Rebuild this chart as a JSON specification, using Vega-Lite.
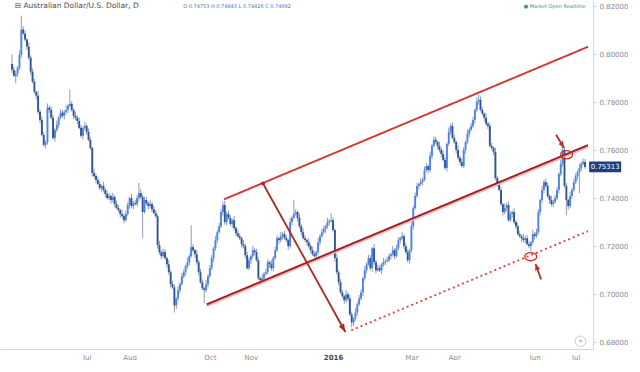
{
"$schema":"https://vega.github.io/schema/vega-lite/v6.json",
"width":593,"height":349,"padding":0,"autosize":{"type":"pad"},
"background":"#ffffff",
"view":{"stroke":null},
"config":{"font":"DejaVu Sans"},
"datasets":{
"candles":[
{"i":3,"o":0.7960,"h":0.8000,"l":0.7923,"c":0.7936},
{"i":4,"o":0.7936,"h":0.7950,"l":0.7905,"c":0.7911},
{"i":5,"o":0.7911,"h":0.7932,"l":0.7880,"c":0.7920},
{"i":6,"o":0.7920,"h":0.7951,"l":0.7905,"c":0.7945},
{"i":7,"o":0.7945,"h":0.8017,"l":0.7935,"c":0.7999},
{"i":8,"o":0.7999,"h":0.8162,"l":0.7986,"c":0.8104},
{"i":9,"o":0.8104,"h":0.8118,"l":0.8081,"c":0.8087},
{"i":10,"o":0.8087,"h":0.8099,"l":0.8054,"c":0.8062},
{"i":11,"o":0.8062,"h":0.8068,"l":0.8018,"c":0.8033},
{"i":12,"o":0.8033,"h":0.8051,"l":0.7977,"c":0.7987},
{"i":13,"o":0.7987,"h":0.7996,"l":0.7915,"c":0.7928},
{"i":14,"o":0.7928,"h":0.7942,"l":0.7880,"c":0.7886},
{"i":15,"o":0.7886,"h":0.7898,"l":0.7836,"c":0.7844},
{"i":16,"o":0.7844,"h":0.7850,"l":0.7813,"c":0.7828},
{"i":17,"o":0.7828,"h":0.7846,"l":0.7751,"c":0.7761},
{"i":18,"o":0.7761,"h":0.7770,"l":0.7714,"c":0.7727},
{"i":19,"o":0.7727,"h":0.7741,"l":0.7659,"c":0.7665},
{"i":20,"o":0.7665,"h":0.7677,"l":0.7615,"c":0.7623},
{"i":21,"o":0.7623,"h":0.7641,"l":0.7608,"c":0.7635},
{"i":22,"o":0.7635,"h":0.7796,"l":0.7625,"c":0.7778},
{"i":23,"o":0.7778,"h":0.7787,"l":0.7756,"c":0.7769},
{"i":24,"o":0.7769,"h":0.7783,"l":0.7730,"c":0.7736},
{"i":25,"o":0.7736,"h":0.7748,"l":0.7644,"c":0.7652},
{"i":26,"o":0.7652,"h":0.7692,"l":0.7637,"c":0.7686},
{"i":27,"o":0.7686,"h":0.7725,"l":0.7676,"c":0.7707},
{"i":28,"o":0.7707,"h":0.7745,"l":0.7694,"c":0.7736},
{"i":29,"o":0.7736,"h":0.7771,"l":0.7730,"c":0.7757},
{"i":30,"o":0.7757,"h":0.7769,"l":0.7736,"c":0.7744},
{"i":31,"o":0.7744,"h":0.7767,"l":0.7729,"c":0.7761},
{"i":32,"o":0.7761,"h":0.7787,"l":0.7751,"c":0.7769},
{"i":33,"o":0.7769,"h":0.7795,"l":0.7756,"c":0.7786},
{"i":34,"o":0.7786,"h":0.7853,"l":0.7780,"c":0.7794},
{"i":35,"o":0.7794,"h":0.7806,"l":0.7761,"c":0.7769},
{"i":36,"o":0.7769,"h":0.7775,"l":0.7729,"c":0.7744},
{"i":37,"o":0.7744,"h":0.7762,"l":0.7726,"c":0.7736},
{"i":38,"o":0.7736,"h":0.7745,"l":0.7710,"c":0.7723},
{"i":39,"o":0.7723,"h":0.7737,"l":0.7688,"c":0.7694},
{"i":40,"o":0.7694,"h":0.7706,"l":0.7653,"c":0.7661},
{"i":41,"o":0.7661,"h":0.7700,"l":0.7646,"c":0.7694},
{"i":42,"o":0.7694,"h":0.7720,"l":0.7684,"c":0.7702},
{"i":43,"o":0.7702,"h":0.7711,"l":0.7664,"c":0.7677},
{"i":44,"o":0.7677,"h":0.7691,"l":0.7638,"c":0.7644},
{"i":45,"o":0.7644,"h":0.7656,"l":0.7602,"c":0.7610},
{"i":46,"o":0.7610,"h":0.7616,"l":0.7491,"c":0.7506},
{"i":47,"o":0.7506,"h":0.7524,"l":0.7483,"c":0.7493},
{"i":48,"o":0.7493,"h":0.7502,"l":0.7464,"c":0.7477},
{"i":49,"o":0.7477,"h":0.7491,"l":0.7454,"c":0.7460},
{"i":50,"o":0.7460,"h":0.7472,"l":0.7435,"c":0.7443},
{"i":51,"o":0.7443,"h":0.7458,"l":0.7428,"c":0.7452},
{"i":52,"o":0.7452,"h":0.7470,"l":0.7425,"c":0.7435},
{"i":53,"o":0.7435,"h":0.7444,"l":0.7405,"c":0.7418},
{"i":54,"o":0.7418,"h":0.7432,"l":0.7395,"c":0.7401},
{"i":55,"o":0.7401,"h":0.7422,"l":0.7393,"c":0.7410},
{"i":56,"o":0.7410,"h":0.7416,"l":0.7378,"c":0.7393},
{"i":57,"o":0.7393,"h":0.7424,"l":0.7383,"c":0.7406},
{"i":58,"o":0.7406,"h":0.7415,"l":0.7363,"c":0.7376},
{"i":59,"o":0.7376,"h":0.7390,"l":0.7354,"c":0.7360},
{"i":60,"o":0.7360,"h":0.7372,"l":0.7343,"c":0.7351},
{"i":61,"o":0.7351,"h":0.7357,"l":0.7320,"c":0.7335},
{"i":62,"o":0.7335,"h":0.7353,"l":0.7316,"c":0.7326},
{"i":63,"o":0.7326,"h":0.7335,"l":0.7296,"c":0.7309},
{"i":64,"o":0.7309,"h":0.7349,"l":0.7303,"c":0.7335},
{"i":65,"o":0.7335,"h":0.7384,"l":0.7327,"c":0.7372},
{"i":66,"o":0.7372,"h":0.7407,"l":0.7357,"c":0.7401},
{"i":67,"o":0.7401,"h":0.7419,"l":0.7358,"c":0.7368},
{"i":68,"o":0.7368,"h":0.7389,"l":0.7355,"c":0.7380},
{"i":69,"o":0.7380,"h":0.7394,"l":0.7370,"c":0.7376},
{"i":70,"o":0.7376,"h":0.7413,"l":0.7368,"c":0.7401},
{"i":71,"o":0.7401,"h":0.7464,"l":0.7386,"c":0.7422},
{"i":72,"o":0.7422,"h":0.7440,"l":0.7396,"c":0.7406},
{"i":73,"o":0.7406,"h":0.7415,"l":0.7234,"c":0.7343},
{"i":74,"o":0.7343,"h":0.7407,"l":0.7337,"c":0.7393},
{"i":75,"o":0.7393,"h":0.7405,"l":0.7372,"c":0.7380},
{"i":76,"o":0.7380,"h":0.7386,"l":0.7353,"c":0.7368},
{"i":77,"o":0.7368,"h":0.7394,"l":0.7358,"c":0.7376},
{"i":78,"o":0.7376,"h":0.7385,"l":0.7342,"c":0.7355},
{"i":79,"o":0.7355,"h":0.7369,"l":0.7333,"c":0.7339},
{"i":80,"o":0.7339,"h":0.7351,"l":0.7318,"c":0.7326},
{"i":81,"o":0.7326,"h":0.7332,"l":0.7190,"c":0.7205},
{"i":82,"o":0.7205,"h":0.7223,"l":0.7166,"c":0.7176},
{"i":83,"o":0.7176,"h":0.7185,"l":0.7146,"c":0.7159},
{"i":84,"o":0.7159,"h":0.7190,"l":0.7153,"c":0.7176},
{"i":85,"o":0.7176,"h":0.7188,"l":0.7143,"c":0.7151},
{"i":86,"o":0.7151,"h":0.7157,"l":0.7110,"c":0.7125},
{"i":87,"o":0.7125,"h":0.7143,"l":0.7082,"c":0.7092},
{"i":88,"o":0.7092,"h":0.7101,"l":0.7029,"c":0.7042},
{"i":89,"o":0.7042,"h":0.7056,"l":0.7023,"c":0.7029},
{"i":90,"o":0.7029,"h":0.7041,"l":0.6924,"c":0.6954},
{"i":91,"o":0.6954,"h":0.6989,"l":0.6939,"c":0.6983},
{"i":92,"o":0.6983,"h":0.7035,"l":0.6973,"c":0.7017},
{"i":93,"o":0.7017,"h":0.7051,"l":0.7004,"c":0.7042},
{"i":94,"o":0.7042,"h":0.7089,"l":0.7036,"c":0.7075},
{"i":95,"o":0.7075,"h":0.7104,"l":0.7067,"c":0.7092},
{"i":96,"o":0.7092,"h":0.7123,"l":0.7077,"c":0.7117},
{"i":97,"o":0.7117,"h":0.7152,"l":0.7107,"c":0.7134},
{"i":98,"o":0.7134,"h":0.7168,"l":0.7121,"c":0.7159},
{"i":99,"o":0.7159,"h":0.7288,"l":0.7153,"c":0.7197},
{"i":100,"o":0.7197,"h":0.7209,"l":0.7176,"c":0.7184},
{"i":101,"o":0.7184,"h":0.7190,"l":0.7152,"c":0.7167},
{"i":102,"o":0.7167,"h":0.7185,"l":0.7124,"c":0.7134},
{"i":103,"o":0.7134,"h":0.7143,"l":0.7079,"c":0.7092},
{"i":104,"o":0.7092,"h":0.7106,"l":0.7044,"c":0.7050},
{"i":105,"o":0.7050,"h":0.7062,"l":0.7017,"c":0.7025},
{"i":106,"o":0.7025,"h":0.7031,"l":0.6962,"c":0.7017},
{"i":107,"o":0.7017,"h":0.7060,"l":0.7007,"c":0.7042},
{"i":108,"o":0.7042,"h":0.7084,"l":0.7029,"c":0.7075},
{"i":109,"o":0.7075,"h":0.7123,"l":0.7069,"c":0.7109},
{"i":110,"o":0.7109,"h":0.7163,"l":0.7101,"c":0.7151},
{"i":111,"o":0.7151,"h":0.7198,"l":0.7136,"c":0.7192},
{"i":112,"o":0.7192,"h":0.7244,"l":0.7182,"c":0.7226},
{"i":113,"o":0.7226,"h":0.7268,"l":0.7213,"c":0.7259},
{"i":114,"o":0.7259,"h":0.7298,"l":0.7253,"c":0.7284},
{"i":115,"o":0.7284,"h":0.7355,"l":0.7276,"c":0.7343},
{"i":116,"o":0.7343,"h":0.7385,"l":0.7328,"c":0.7372},
{"i":117,"o":0.7372,"h":0.7390,"l":0.7291,"c":0.7301},
{"i":118,"o":0.7301,"h":0.7344,"l":0.7288,"c":0.7335},
{"i":119,"o":0.7335,"h":0.7349,"l":0.7312,"c":0.7318},
{"i":120,"o":0.7318,"h":0.7330,"l":0.7285,"c":0.7293},
{"i":121,"o":0.7293,"h":0.7315,"l":0.7278,"c":0.7309},
{"i":122,"o":0.7309,"h":0.7327,"l":0.7266,"c":0.7276},
{"i":123,"o":0.7276,"h":0.7285,"l":0.7242,"c":0.7255},
{"i":124,"o":0.7255,"h":0.7269,"l":0.7236,"c":0.7242},
{"i":125,"o":0.7242,"h":0.7254,"l":0.7226,"c":0.7234},
{"i":126,"o":0.7234,"h":0.7240,"l":0.7194,"c":0.7209},
{"i":127,"o":0.7209,"h":0.7227,"l":0.7191,"c":0.7201},
{"i":128,"o":0.7201,"h":0.7210,"l":0.7150,"c":0.7163},
{"i":129,"o":0.7163,"h":0.7177,"l":0.7103,"c":0.7109},
{"i":130,"o":0.7109,"h":0.7154,"l":0.7101,"c":0.7142},
{"i":131,"o":0.7142,"h":0.7165,"l":0.7127,"c":0.7159},
{"i":132,"o":0.7159,"h":0.7202,"l":0.7149,"c":0.7184},
{"i":133,"o":0.7184,"h":0.7193,"l":0.7163,"c":0.7176},
{"i":134,"o":0.7176,"h":0.7190,"l":0.7136,"c":0.7142},
{"i":135,"o":0.7142,"h":0.7154,"l":0.7059,"c":0.7067},
{"i":136,"o":0.7067,"h":0.7073,"l":0.7044,"c":0.7059},
{"i":137,"o":0.7059,"h":0.7085,"l":0.7049,"c":0.7067},
{"i":138,"o":0.7067,"h":0.7093,"l":0.7054,"c":0.7084},
{"i":139,"o":0.7084,"h":0.7106,"l":0.7078,"c":0.7092},
{"i":140,"o":0.7092,"h":0.7146,"l":0.7084,"c":0.7134},
{"i":141,"o":0.7134,"h":0.7140,"l":0.7110,"c":0.7125},
{"i":142,"o":0.7125,"h":0.7143,"l":0.7099,"c":0.7109},
{"i":143,"o":0.7109,"h":0.7160,"l":0.7096,"c":0.7151},
{"i":144,"o":0.7151,"h":0.7198,"l":0.7145,"c":0.7184},
{"i":145,"o":0.7184,"h":0.7246,"l":0.7176,"c":0.7234},
{"i":146,"o":0.7234,"h":0.7240,"l":0.7211,"c":0.7226},
{"i":147,"o":0.7226,"h":0.7260,"l":0.7216,"c":0.7242},
{"i":148,"o":0.7242,"h":0.7260,"l":0.7229,"c":0.7251},
{"i":149,"o":0.7251,"h":0.7265,"l":0.7228,"c":0.7234},
{"i":150,"o":0.7234,"h":0.7246,"l":0.7218,"c":0.7226},
{"i":151,"o":0.7226,"h":0.7232,"l":0.7186,"c":0.7201},
{"i":152,"o":0.7201,"h":0.7319,"l":0.7191,"c":0.7301},
{"i":153,"o":0.7301,"h":0.7327,"l":0.7288,"c":0.7318},
{"i":154,"o":0.7318,"h":0.7393,"l":0.7312,"c":0.7335},
{"i":155,"o":0.7335,"h":0.7355,"l":0.7327,"c":0.7343},
{"i":156,"o":0.7343,"h":0.7349,"l":0.7303,"c":0.7318},
{"i":157,"o":0.7318,"h":0.7336,"l":0.7274,"c":0.7284},
{"i":158,"o":0.7284,"h":0.7293,"l":0.7246,"c":0.7259},
{"i":159,"o":0.7259,"h":0.7273,"l":0.7228,"c":0.7234},
{"i":160,"o":0.7234,"h":0.7246,"l":0.7218,"c":0.7226},
{"i":161,"o":0.7226,"h":0.7232,"l":0.7202,"c":0.7217},
{"i":162,"o":0.7217,"h":0.7235,"l":0.7191,"c":0.7201},
{"i":163,"o":0.7201,"h":0.7210,"l":0.7171,"c":0.7184},
{"i":164,"o":0.7184,"h":0.7198,"l":0.7161,"c":0.7167},
{"i":165,"o":0.7167,"h":0.7179,"l":0.7151,"c":0.7159},
{"i":166,"o":0.7159,"h":0.7182,"l":0.7144,"c":0.7176},
{"i":167,"o":0.7176,"h":0.7235,"l":0.7166,"c":0.7217},
{"i":168,"o":0.7217,"h":0.7251,"l":0.7204,"c":0.7242},
{"i":169,"o":0.7242,"h":0.7273,"l":0.7236,"c":0.7259},
{"i":170,"o":0.7259,"h":0.7284,"l":0.7251,"c":0.7272},
{"i":171,"o":0.7272,"h":0.7290,"l":0.7257,"c":0.7284},
{"i":172,"o":0.7284,"h":0.7319,"l":0.7274,"c":0.7301},
{"i":173,"o":0.7301,"h":0.7314,"l":0.7288,"c":0.7305},
{"i":174,"o":0.7305,"h":0.7339,"l":0.7299,"c":0.7309},
{"i":175,"o":0.7309,"h":0.7321,"l":0.7260,"c":0.7268},
{"i":176,"o":0.7268,"h":0.7274,"l":0.7136,"c":0.7151},
{"i":177,"o":0.7151,"h":0.7169,"l":0.7082,"c":0.7092},
{"i":178,"o":0.7092,"h":0.7101,"l":0.7037,"c":0.7050},
{"i":179,"o":0.7050,"h":0.7064,"l":0.7002,"c":0.7008},
{"i":180,"o":0.7008,"h":0.7020,"l":0.6984,"c":0.6992},
{"i":181,"o":0.6992,"h":0.6998,"l":0.6960,"c":0.6975},
{"i":182,"o":0.6975,"h":0.7018,"l":0.6965,"c":0.7000},
{"i":183,"o":0.7000,"h":0.7009,"l":0.6970,"c":0.6983},
{"i":184,"o":0.6983,"h":0.6997,"l":0.6910,"c":0.6916},
{"i":185,"o":0.6916,"h":0.6928,"l":0.6862,"c":0.6883},
{"i":186,"o":0.6883,"h":0.6905,"l":0.6868,"c":0.6899},
{"i":187,"o":0.6899,"h":0.6942,"l":0.6889,"c":0.6924},
{"i":188,"o":0.6924,"h":0.6967,"l":0.6911,"c":0.6958},
{"i":189,"o":0.6958,"h":0.6997,"l":0.6952,"c":0.6983},
{"i":190,"o":0.6983,"h":0.7020,"l":0.6975,"c":0.7008},
{"i":191,"o":0.7008,"h":0.7073,"l":0.6993,"c":0.7067},
{"i":192,"o":0.7067,"h":0.7118,"l":0.7057,"c":0.7100},
{"i":193,"o":0.7100,"h":0.7134,"l":0.7087,"c":0.7125},
{"i":194,"o":0.7125,"h":0.7165,"l":0.7119,"c":0.7151},
{"i":195,"o":0.7151,"h":0.7163,"l":0.7101,"c":0.7109},
{"i":196,"o":0.7109,"h":0.7198,"l":0.7094,"c":0.7192},
{"i":197,"o":0.7192,"h":0.7210,"l":0.7124,"c":0.7134},
{"i":198,"o":0.7134,"h":0.7143,"l":0.7087,"c":0.7100},
{"i":199,"o":0.7100,"h":0.7123,"l":0.7094,"c":0.7109},
{"i":200,"o":0.7109,"h":0.7121,"l":0.7092,"c":0.7100},
{"i":201,"o":0.7100,"h":0.7131,"l":0.7085,"c":0.7125},
{"i":202,"o":0.7125,"h":0.7152,"l":0.7115,"c":0.7134},
{"i":203,"o":0.7134,"h":0.7147,"l":0.7121,"c":0.7138},
{"i":204,"o":0.7138,"h":0.7156,"l":0.7132,"c":0.7142},
{"i":205,"o":0.7142,"h":0.7171,"l":0.7134,"c":0.7159},
{"i":206,"o":0.7159,"h":0.7173,"l":0.7144,"c":0.7167},
{"i":207,"o":0.7167,"h":0.7202,"l":0.7157,"c":0.7184},
{"i":208,"o":0.7184,"h":0.7193,"l":0.7146,"c":0.7159},
{"i":209,"o":0.7159,"h":0.7206,"l":0.7153,"c":0.7192},
{"i":210,"o":0.7192,"h":0.7238,"l":0.7184,"c":0.7226},
{"i":211,"o":0.7226,"h":0.7240,"l":0.7211,"c":0.7234},
{"i":212,"o":0.7234,"h":0.7260,"l":0.7224,"c":0.7242},
{"i":213,"o":0.7242,"h":0.7251,"l":0.7188,"c":0.7201},
{"i":214,"o":0.7201,"h":0.7215,"l":0.7170,"c":0.7176},
{"i":215,"o":0.7176,"h":0.7188,"l":0.7134,"c":0.7142},
{"i":216,"o":0.7142,"h":0.7190,"l":0.7127,"c":0.7184},
{"i":217,"o":0.7184,"h":0.7302,"l":0.7174,"c":0.7284},
{"i":218,"o":0.7284,"h":0.7369,"l":0.7271,"c":0.7360},
{"i":219,"o":0.7360,"h":0.7424,"l":0.7354,"c":0.7410},
{"i":220,"o":0.7410,"h":0.7464,"l":0.7402,"c":0.7452},
{"i":221,"o":0.7452,"h":0.7466,"l":0.7437,"c":0.7460},
{"i":222,"o":0.7460,"h":0.7486,"l":0.7450,"c":0.7468},
{"i":223,"o":0.7468,"h":0.7486,"l":0.7455,"c":0.7477},
{"i":224,"o":0.7477,"h":0.7532,"l":0.7471,"c":0.7518},
{"i":225,"o":0.7518,"h":0.7547,"l":0.7510,"c":0.7535},
{"i":226,"o":0.7535,"h":0.7541,"l":0.7503,"c":0.7518},
{"i":227,"o":0.7518,"h":0.7595,"l":0.7508,"c":0.7577},
{"i":228,"o":0.7577,"h":0.7628,"l":0.7564,"c":0.7619},
{"i":229,"o":0.7619,"h":0.7658,"l":0.7613,"c":0.7644},
{"i":230,"o":0.7644,"h":0.7656,"l":0.7627,"c":0.7635},
{"i":231,"o":0.7635,"h":0.7641,"l":0.7604,"c":0.7619},
{"i":232,"o":0.7619,"h":0.7637,"l":0.7592,"c":0.7602},
{"i":233,"o":0.7602,"h":0.7611,"l":0.7572,"c":0.7585},
{"i":234,"o":0.7585,"h":0.7599,"l":0.7554,"c":0.7560},
{"i":235,"o":0.7560,"h":0.7572,"l":0.7519,"c":0.7527},
{"i":236,"o":0.7527,"h":0.7633,"l":0.7512,"c":0.7627},
{"i":237,"o":0.7627,"h":0.7695,"l":0.7617,"c":0.7677},
{"i":238,"o":0.7677,"h":0.7711,"l":0.7664,"c":0.7702},
{"i":239,"o":0.7702,"h":0.7716,"l":0.7646,"c":0.7652},
{"i":240,"o":0.7652,"h":0.7664,"l":0.7627,"c":0.7635},
{"i":241,"o":0.7635,"h":0.7641,"l":0.7587,"c":0.7602},
{"i":242,"o":0.7602,"h":0.7620,"l":0.7559,"c":0.7569},
{"i":243,"o":0.7569,"h":0.7578,"l":0.7539,"c":0.7552},
{"i":244,"o":0.7552,"h":0.7566,"l":0.7529,"c":0.7535},
{"i":245,"o":0.7535,"h":0.7614,"l":0.7527,"c":0.7602},
{"i":246,"o":0.7602,"h":0.7641,"l":0.7587,"c":0.7635},
{"i":247,"o":0.7635,"h":0.7687,"l":0.7625,"c":0.7669},
{"i":248,"o":0.7669,"h":0.7695,"l":0.7656,"c":0.7686},
{"i":249,"o":0.7686,"h":0.7716,"l":0.7680,"c":0.7702},
{"i":250,"o":0.7702,"h":0.7739,"l":0.7694,"c":0.7727},
{"i":251,"o":0.7727,"h":0.7775,"l":0.7712,"c":0.7769},
{"i":252,"o":0.7769,"h":0.7821,"l":0.7759,"c":0.7803},
{"i":253,"o":0.7803,"h":0.7832,"l":0.7790,"c":0.7811},
{"i":254,"o":0.7811,"h":0.7825,"l":0.7763,"c":0.7769},
{"i":255,"o":0.7769,"h":0.7781,"l":0.7745,"c":0.7753},
{"i":256,"o":0.7753,"h":0.7759,"l":0.7721,"c":0.7736},
{"i":257,"o":0.7736,"h":0.7754,"l":0.7701,"c":0.7711},
{"i":258,"o":0.7711,"h":0.7720,"l":0.7689,"c":0.7702},
{"i":259,"o":0.7702,"h":0.7716,"l":0.7613,"c":0.7619},
{"i":260,"o":0.7619,"h":0.7631,"l":0.7602,"c":0.7610},
{"i":261,"o":0.7610,"h":0.7616,"l":0.7579,"c":0.7594},
{"i":262,"o":0.7594,"h":0.7612,"l":0.7475,"c":0.7485},
{"i":263,"o":0.7485,"h":0.7494,"l":0.7447,"c":0.7460},
{"i":264,"o":0.7460,"h":0.7474,"l":0.7429,"c":0.7435},
{"i":265,"o":0.7435,"h":0.7447,"l":0.7368,"c":0.7376},
{"i":266,"o":0.7376,"h":0.7382,"l":0.7328,"c":0.7343},
{"i":267,"o":0.7343,"h":0.7378,"l":0.7333,"c":0.7360},
{"i":268,"o":0.7360,"h":0.7381,"l":0.7347,"c":0.7372},
{"i":269,"o":0.7372,"h":0.7386,"l":0.7303,"c":0.7309},
{"i":270,"o":0.7309,"h":0.7347,"l":0.7301,"c":0.7335},
{"i":271,"o":0.7335,"h":0.7349,"l":0.7320,"c":0.7343},
{"i":272,"o":0.7343,"h":0.7361,"l":0.7291,"c":0.7301},
{"i":273,"o":0.7301,"h":0.7310,"l":0.7271,"c":0.7284},
{"i":274,"o":0.7284,"h":0.7298,"l":0.7245,"c":0.7251},
{"i":275,"o":0.7251,"h":0.7263,"l":0.7234,"c":0.7242},
{"i":276,"o":0.7242,"h":0.7248,"l":0.7219,"c":0.7234},
{"i":277,"o":0.7234,"h":0.7252,"l":0.7216,"c":0.7226},
{"i":278,"o":0.7226,"h":0.7243,"l":0.7213,"c":0.7234},
{"i":279,"o":0.7234,"h":0.7248,"l":0.7203,"c":0.7209},
{"i":280,"o":0.7209,"h":0.7221,"l":0.7193,"c":0.7201},
{"i":281,"o":0.7201,"h":0.7223,"l":0.7178,"c":0.7217},
{"i":282,"o":0.7217,"h":0.7269,"l":0.7207,"c":0.7251},
{"i":283,"o":0.7251,"h":0.7260,"l":0.7229,"c":0.7242},
{"i":284,"o":0.7242,"h":0.7273,"l":0.7236,"c":0.7259},
{"i":285,"o":0.7259,"h":0.7355,"l":0.7251,"c":0.7343},
{"i":286,"o":0.7343,"h":0.7399,"l":0.7328,"c":0.7393},
{"i":287,"o":0.7393,"h":0.7453,"l":0.7383,"c":0.7435},
{"i":288,"o":0.7435,"h":0.7477,"l":0.7422,"c":0.7468},
{"i":289,"o":0.7468,"h":0.7482,"l":0.7446,"c":0.7452},
{"i":290,"o":0.7452,"h":0.7464,"l":0.7402,"c":0.7410},
{"i":291,"o":0.7410,"h":0.7416,"l":0.7378,"c":0.7393},
{"i":292,"o":0.7393,"h":0.7411,"l":0.7366,"c":0.7376},
{"i":293,"o":0.7376,"h":0.7394,"l":0.7363,"c":0.7385},
{"i":294,"o":0.7385,"h":0.7415,"l":0.7379,"c":0.7401},
{"i":295,"o":0.7401,"h":0.7447,"l":0.7393,"c":0.7435},
{"i":296,"o":0.7435,"h":0.7508,"l":0.7420,"c":0.7502},
{"i":297,"o":0.7502,"h":0.7562,"l":0.7492,"c":0.7544},
{"i":298,"o":0.7544,"h":0.7644,"l":0.7531,"c":0.7602},
{"i":299,"o":0.7602,"h":0.7616,"l":0.7446,"c":0.7452},
{"i":300,"o":0.7452,"h":0.7464,"l":0.7330,"c":0.7393},
{"i":301,"o":0.7393,"h":0.7399,"l":0.7353,"c":0.7368},
{"i":302,"o":0.7368,"h":0.7428,"l":0.7358,"c":0.7410},
{"i":303,"o":0.7410,"h":0.7444,"l":0.7397,"c":0.7435},
{"i":304,"o":0.7435,"h":0.7482,"l":0.7429,"c":0.7468},
{"i":305,"o":0.7468,"h":0.7505,"l":0.7460,"c":0.7493},
{"i":306,"o":0.7493,"h":0.7516,"l":0.7478,"c":0.7510},
{"i":307,"o":0.7510,"h":0.7545,"l":0.7422,"c":0.7527},
{"i":308,"o":0.7527,"h":0.7553,"l":0.7514,"c":0.7544},
{"i":309,"o":0.7544,"h":0.7566,"l":0.7538,"c":0.7552},
{"i":310,"o":0.7552,"h":0.7564,"l":0.7523,"c":0.7531}
],
"lines":[
{"k":"midshadow","x1":107.3,"p1":0.6951,"x2":311.6,"p2":0.7615},
{"k":"upper","x1":116.6,"p1":0.7396,"x2":311.6,"p2":0.8032},
{"k":"middle","x1":107.3,"p1":0.6958,"x2":311.6,"p2":0.7622},
{"k":"lower","x1":184.8,"p1":0.6850,"x2":311.6,"p2":0.7263}
],
"arrows":[
{"k":"main","x1":137.4,"p1":0.7463,"x2":181.6,"p2":0.6843},
{"k":"top","x1":294.5,"p1":0.7665,"x2":298.7,"p2":0.7611},
{"k":"bottom","x1":286.5,"p1":0.7062,"x2":283.5,"p2":0.7126}
],
"rings":[
{"k":"breakout","i":300.1,"p":0.7582},
{"k":"support","i":280.9,"p":0.7157}
]
},
"layer":[
{"data":{"name":"candles"},
 "mark":{"type":"rule","strokeWidth":1,"color":"#8f9bb3"},
 "encoding":{
  "x":{"field":"i","type":"quantitative","title":null,
   "scale":{"domain":[-0.75,311.6],"nice":false,"zero":false},
   "axis":{"orient":"bottom","values":[43,66,109,131,175,217,240,283,305],
    "labelExpr":"datum.value==43?'Jul':datum.value==66?'Aug':datum.value==109?'Oct':datum.value==131?'Nov':datum.value==175?'2016':datum.value==217?'Mar':datum.value==240?'Apr':datum.value==283?'Jun':'Jul'",
    "ticks":false,"grid":false,"domainColor":"#d6d6d6","domainWidth":1,
    "labelFont":"DejaVu Sans","labelFontSize":7,"labelPadding":4,
    "labelColor":{"condition":{"test":"datum.value==175","value":"#444444"},"value":"#8a8a8a"},
    "labelFontWeight":{"condition":{"test":"datum.value==175","value":"bold"},"value":"normal"},
    "labelOverlap":false}},
  "y":{"field":"l","type":"quantitative","title":null,
   "scale":{"domain":[0.6772,0.8227],"nice":false,"zero":false},
   "axis":{"orient":"right","values":[0.68,0.69,0.70,0.71,0.72,0.73,0.74,0.75,0.76,0.77,0.78,0.79,0.80,0.81,0.82],
    "format":".5f","grid":false,"ticks":true,"tickSize":3,"tickColor":"#cfcfcf",
    "domainColor":"#d6d6d6","labelFont":"DejaVu Sans","labelFontSize":7,"labelColor":"#8a8a8a","labelPadding":3}},
  "y2":{"field":"h"}}},
{"data":{"name":"candles"},
 "mark":{"type":"bar","width":1.9},
 "encoding":{
  "x":{"field":"i","type":"quantitative","title":null},
  "y":{"field":"o","type":"quantitative","title":null},
  "y2":{"field":"c"},
  "color":{"condition":{"test":"datum.c >= datum.o","value":"#4a84e6"},"value":"#2f5598"}}},
{"data":{"name":"lines"},
 "mark":{"type":"rule"},
 "encoding":{
  "x":{"field":"x1","type":"quantitative","title":null},
  "x2":{"field":"x2"},
  "y":{"field":"p1","type":"quantitative","title":null},
  "y2":{"field":"p2"},
  "color":{"field":"k","type":"nominal","legend":null,"scale":{"domain":["midshadow","upper","middle","lower"],"range":["#f3b3b3","#d23a36","#9e1f22","#d9473f"]}},
  "strokeWidth":{"field":"k","type":"nominal","legend":null,"scale":{"domain":["midshadow","upper","middle","lower"],"range":[2,1.7,1.8,1.4]}},
  "strokeDash":{"field":"k","type":"nominal","legend":null,"scale":{"domain":["midshadow","upper","middle","lower"],"range":[[1,0],[1,0],[1,0],[2,3]]}}}},
{"data":{"name":"arrows"},
 "mark":{"type":"rule","color":"#a82a24"},
 "encoding":{
  "x":{"field":"x1","type":"quantitative","title":null},
  "x2":{"field":"x2"},
  "y":{"field":"p1","type":"quantitative","title":null},
  "y2":{"field":"p2"},
  "strokeWidth":{"field":"k","type":"nominal","legend":null,"scale":{"domain":["main","top","bottom"],"range":[2.2,2.6,2.6]}}}},
{"data":{"name":"arrows"},
 "transform":[{"filter":"datum.k=='main'"}],
 "mark":{"type":"point","shape":"M0,0L0.75,2L-0.75,2Z","filled":true,"color":"#a82a24","size":64,"angle":150.5,"opacity":1},
 "encoding":{"x":{"field":"x2","type":"quantitative","title":null},"y":{"field":"p2","type":"quantitative","title":null}}},
{"data":{"name":"arrows"},
 "transform":[{"filter":"datum.k=='main'"}],
 "mark":{"type":"point","shape":"circle","filled":true,"color":"#a82a24","size":14,"opacity":1},
 "encoding":{"x":{"field":"x1","type":"quantitative","title":null},"y":{"field":"p1","type":"quantitative","title":null}}},
{"data":{"name":"arrows"},
 "transform":[{"filter":"datum.k=='top'"}],
 "mark":{"type":"point","shape":"M0,0L0.9,2L-0.9,2Z","filled":true,"color":"#b8322a","size":36,"angle":148.2,"opacity":1},
 "encoding":{"x":{"field":"x2","type":"quantitative","title":null},"y":{"field":"p2","type":"quantitative","title":null}}},
{"data":{"name":"arrows"},
 "transform":[{"filter":"datum.k=='bottom'"}],
 "mark":{"type":"point","shape":"M0,0L0.9,2L-0.9,2Z","filled":true,"color":"#b8322a","size":36,"angle":339.6,"opacity":1},
 "encoding":{"x":{"field":"x2","type":"quantitative","title":null},"y":{"field":"p2","type":"quantitative","title":null}}},
{"data":{"name":"rings"},
 "mark":{"type":"point","shape":"M-1,0A1,0.68,0,1,1,1,0A1,0.68,0,1,1,-1,0Z","filled":false,"color":"#c8302a","strokeWidth":1.3,"size":144,"opacity":1},
 "encoding":{"x":{"field":"i","type":"quantitative","title":null},"y":{"field":"p","type":"quantitative","title":null}}},
{"data":{"values":[{"t":"⊟ Australian Dollar/U.S. Dollar, D","i":4.5,"p":0.8204}]},
 "mark":{"type":"text","align":"left","baseline":"middle","fontSize":7.5,"color":"#4d4d4d","font":"DejaVu Sans"},
 "encoding":{"x":{"field":"i","type":"quantitative","title":null},"y":{"field":"p","type":"quantitative","title":null},"text":{"field":"t"}}},
{"data":{"values":[{"t":"O 0.74753 H 0.74843 L 0.74426 C 0.74692","i":94.7,"p":0.8204}]},
 "mark":{"type":"text","align":"left","baseline":"middle","fontSize":5,"color":"#4a72c4","font":"DejaVu Sans"},
 "encoding":{"x":{"field":"i","type":"quantitative","title":null},"y":{"field":"p","type":"quantitative","title":null},"text":{"field":"t"}}},
{"data":{"values":[{"t":"● Market Open  Realtime","i":310.3,"p":0.8204}]},
 "mark":{"type":"text","align":"right","baseline":"middle","fontSize":5,"color":"#3a9a5c","font":"DejaVu Sans"},
 "encoding":{"x":{"field":"i","type":"quantitative","title":null},"y":{"field":"p","type":"quantitative","title":null},"text":{"field":"t"}}},
{"data":{"values":[{"i":320.8,"p":0.75313}]},
 "mark":{"type":"point","shape":"M-1,-0.33L1,-0.33L1,0.33L-1,0.33Z","filled":true,"color":"#1f3e78","size":1024,"opacity":1},
 "encoding":{"x":{"field":"i","type":"quantitative","title":null},"y":{"field":"p","type":"quantitative","title":null}}},
{"data":{"values":[{"t":"0.75313","i":320.8,"p":0.75313}]},
 "mark":{"type":"text","align":"center","baseline":"middle","fontSize":7,"color":"#ffffff","font":"DejaVu Sans"},
 "encoding":{"x":{"field":"i","type":"quantitative","title":null},"y":{"field":"p","type":"quantitative","title":null},"text":{"field":"t"}}},
{"data":{"values":[{"i":307.6,"p":0.6804}]},
 "mark":{"type":"point","shape":"circle","filled":true,"fill":"#ffffff","stroke":"#cccccc","strokeWidth":1,"size":110,"opacity":1},
 "encoding":{"x":{"field":"i","type":"quantitative","title":null},"y":{"field":"p","type":"quantitative","title":null}}},
{"data":{"values":[{"t":"»","i":307.6,"p":0.6804}]},
 "mark":{"type":"text","align":"center","baseline":"middle","fontSize":7,"color":"#8a8a8a","font":"DejaVu Sans"},
 "encoding":{"x":{"field":"i","type":"quantitative","title":null},"y":{"field":"p","type":"quantitative","title":null},"text":{"field":"t"}}}
]
}
